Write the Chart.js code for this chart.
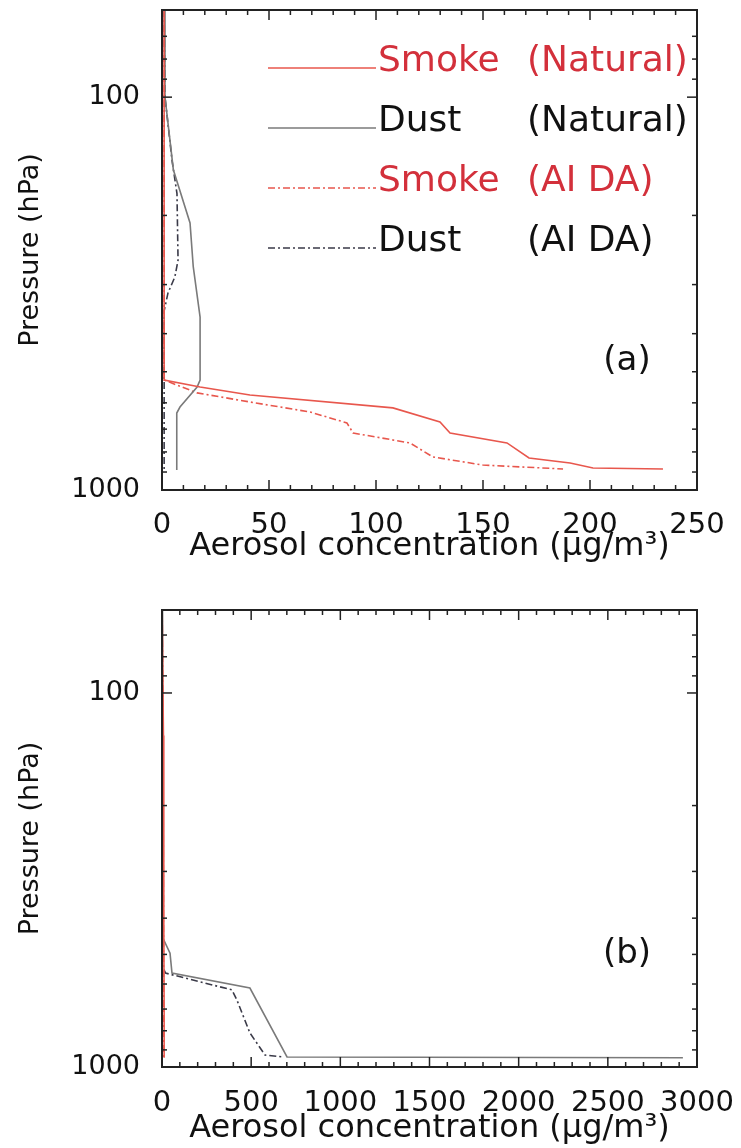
<!DOCTYPE html>
<html>
<head>
<meta charset="utf-8">
<script src="https://cdn.jsdelivr.net/npm/chart.js@4"></script>
<style>
  body{margin:0;background:#fff;}
  .panel{position:relative;width:741px;height:574px;}
</style>
</head>
<body>
<div class="panel"><canvas id="panelA"></canvas></div>
<div class="panel"><canvas id="panelB"></canvas></div>
<script>
// ejes
const pressureTicks  = [60,70,80,90,100,200,300,400,500,600,700,800,900,1000];
const pressureLabels = [100,1000];
const legendNames = ['Smoke','Dust','Smoke','Dust'];
const legendRuns  = ['(Natural)','(Natural)','(AI DA)','(AI DA)'];

// panel (a): presión (hPa) y concentración (µg/m3)
const aSmokeNatP = [60,525,547,573,618,671,716,759,829,854,879,884];
const aSmokeNatC = [1,1,17.8,41.1,107.9,129.9,134.6,161.2,171.5,190.7,201.4,234.1];
const aDustNatP  = [60,100,153,209,270,363,525,547,615,637,890];
const aDustNatC  = [1,1.4,5.3,13.1,14.6,17.8,17.8,16.4,8.4,6.9,6.9];
const aSmokeDaP  = [60,525,566,597,633,675,716,759,824,864,884];
const aSmokeDaC  = [1,1,16.4,41.1,69.2,86.4,89.3,115.9,126.6,150,187.4];
const aDustDaP   = [60,100,145,176,260,287,315,350,890];
const aDustDaC   = [1,1.4,4.7,7,7.5,6,2.8,1,1];

// panel (b)
const bSmokeNatP = [60,130,400,700,945];
const bSmokeNatC = [1,8,10,12,12];
const bDustNatP  = [60,450,496,561,615,940,945];
const bDustNatC  = [1,3,45,56,493,701,2921];
const bSmokeDaP  = [60,130,400,700,945];
const bSmokeDaC  = [1,6,8,9,9];
const bDustDaP   = [60,540,561,622,662,811,929,940];
const bDustDaC   = [1,3,20,392,420,493,578,678];

const FONT = 'DejaVu Sans';
const RED = '#e8574d', RED_TXT = '#d3303b';
const dashDot = [7,3,2,3];

const pts = (P, C) => P.map((p, i) => ({x: C[i], y: p}));
const perfil = (label, P, C, color, dash) => ({
  label, data: pts(P, C), borderColor: color, borderWidth: 1.6,
  borderDash: dash, pointRadius: 0, fill: false, tension: 0
});

// marco IDL: ticks hacia dentro, caja, etiqueta del panel y leyenda
const marco = {
  id: 'marco',
  afterDatasetsDraw(chart, args, o) {
    const {ctx, chartArea: a, scales: {x, y}} = chart;
    const seg = (x1, y1, x2, y2) => { ctx.beginPath(); ctx.moveTo(x1, y1); ctx.lineTo(x2, y2); ctx.stroke(); };
    ctx.save();
    ctx.strokeStyle = '#222'; ctx.lineWidth = 1.5; ctx.setLineDash([]);
    for (let v = x.min; v <= x.max + 1e-9; v += o.xMinor) {
      const px = x.getPixelForValue(v);
      const len = Math.abs(v % o.xMajor) < 1e-6 ? 10 : 5;
      seg(px, a.bottom, px, a.bottom - len);
      seg(px, a.top, px, a.top + len);
    }
    pressureTicks.forEach(p => {
      const py = y.getPixelForValue(p);
      const len = pressureLabels.includes(p) ? 10 : 5;
      seg(a.left, py, a.left + len, py);
      seg(a.right, py, a.right - len, py);
    });
    ctx.lineWidth = 2;
    ctx.strokeRect(a.left, a.top, a.right - a.left, a.bottom - a.top);

    ctx.fillStyle = '#111';
    ctx.font = `34px "${FONT}"`;
    ctx.textAlign = 'center'; ctx.textBaseline = 'middle';
    ctx.fillText(o.label, a.right - 70, y.getPixelForValue(o.labelP));

    if (o.legend) {
      ctx.font = `36px "${FONT}"`;
      ctx.textAlign = 'left'; ctx.textBaseline = 'alphabetic';
      chart.data.datasets.forEach((ds, i) => {
        const ly = a.top + 58 + i * 60;
        ctx.strokeStyle = ds.borderColor; ctx.lineWidth = ds.borderWidth;
        ctx.setLineDash(ds.borderDash || []);
        seg(a.left + 106, ly, a.left + 214, ly);
        ctx.fillStyle = i % 2 === 0 ? RED_TXT : '#111';
        ctx.fillText(legendNames[i], a.left + 216, ly + 3);
        ctx.fillText(legendRuns[i], a.left + 365, ly + 3);
      });
    }
    ctx.restore();
  }
};

const sinPadding = s => { s.paddingTop = 0; s.paddingBottom = 0; s.paddingLeft = 0; s.paddingRight = 0; };

function panel(id, datasets, xMax, xStep, xMinor, padTop, padBottom, xH, tickPad, label, labelP, legend) {
  new Chart(document.getElementById(id), {
    type: 'line',
    data: {datasets},
    plugins: [marco],
    options: {
      responsive: true, maintainAspectRatio: false, animation: false,
      layout: {padding: {left: 14, right: 44, top: padTop, bottom: padBottom}},
      plugins: {
        legend: {display: false}, tooltip: {enabled: false},
        marco: {xMinor, xMajor: xStep, label, labelP, legend}
      },
      scales: {
        x: {
          type: 'linear', min: 0, max: xMax,
          grid: {display: false}, border: {display: false},
          ticks: {stepSize: xStep, padding: tickPad, color: '#111', maxRotation: 0, autoSkip: false,
                  callback: v => String(v), font: {family: FONT, size: 29}},
          title: {display: true, text: 'Aerosol concentration (μg/m³)', color: '#111',
                  font: {family: FONT, size: 32}, padding: 0},
          afterFit: s => { s.height = xH; sinPadding(s); }
        },
        y: {
          type: 'logarithmic', reverse: true, min: 60, max: 1000,
          grid: {display: false}, border: {display: false},
          afterBuildTicks: s => { s.ticks = pressureLabels.map(v => ({value: v})); },
          ticks: {callback: v => String(v), padding: 14, color: '#111', autoSkip: false,
                  font: {family: FONT, size: 27}},
          title: {display: true, text: 'Pressure (hPa)', color: '#111',
                  font: {family: FONT, size: 27}, padding: {top: 1, bottom: 0}},
          afterFit: s => { s.width = 148; sinPadding(s); }
        }
      }
    }
  });
}

panel('panelA', [
  perfil('Smoke (Natural)', aSmokeNatP, aSmokeNatC, RED, []),
  perfil('Dust (Natural)',  aDustNatP,  aDustNatC,  '#7a7a7a', []),
  perfil('Smoke (AI DA)',   aSmokeDaP,  aSmokeDaC,  RED, dashDot),
  perfil('Dust (AI DA)',    aDustDaP,   aDustDaC,   '#3a3a48', dashDot)
], 250, 50, 10, 10, 8, 76, 10, '(a)', 469, true);

panel('panelB', [
  perfil('Smoke (Natural)', bSmokeNatP, bSmokeNatC, RED, []),
  perfil('Dust (Natural)',  bDustNatP,  bDustNatC,  '#7a7a7a', []),
  perfil('Smoke (AI DA)',   bSmokeDaP,  bSmokeDaC,  RED, dashDot),
  perfil('Dust (AI DA)',    bDustDaP,   bDustDaC,   '#3a3a48', dashDot)
], 3000, 500, 100, 36, 0, 81, 11, '(b)', 500, false);
</script>
</body>
</html>
